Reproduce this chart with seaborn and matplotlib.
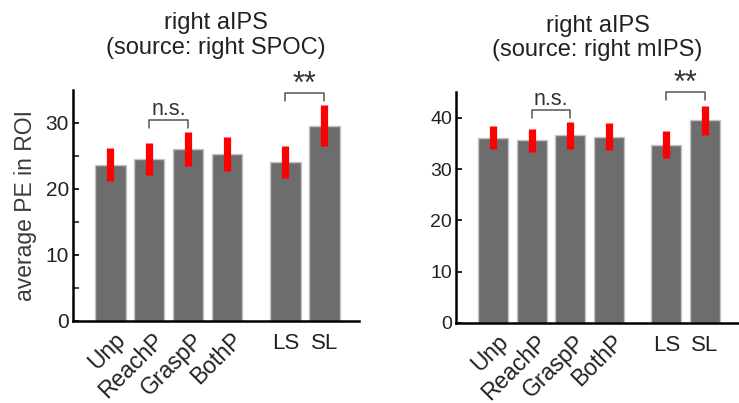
import numpy as np
import pandas as pd
import matplotlib.pyplot as plt
import matplotlib.transforms as mtransforms
import seaborn as sns

# condition labels and bar positions (gap before the LS / SL pair)
conditions = ["Unp", "ReachP", "GraspP", "BothP", "LS", "SL"]
xpos = [0, 1, 2, 3, 4.5, 5.5]

# right aIPS, source: right SPOC
spoc_mean = [23.7, 24.5, 26.1, 25.3, 24.1, 29.6]
spoc_err = [2.45, 2.4, 2.55, 2.55, 2.4, 3.05]

# right aIPS, source: right mIPS
mips_mean = [36.1, 35.6, 36.6, 36.3, 34.8, 39.5]
mips_err = [2.25, 2.3, 2.6, 2.65, 2.65, 2.9]

sns.set_style("ticks")
plt.rcParams["font.family"] = ["Liberation Sans", "DejaVu Sans"]

BAR = "#6e6d6d"
TXT = "#222222"


def draw_panel(ax, means, errs, title, ylim, yticks, tick_fs, minor=None):
    df = pd.DataFrame({"pos": xpos, "value": means})
    sns.barplot(data=df, x="pos", y="value", native_scale=True, width=0.78,
                color=BAR, saturation=1, edgecolor="#c4c4c4", linewidth=1,
                errorbar=None, ax=ax)
    ax.vlines(xpos, np.array(means) - np.array(errs), np.array(means) + np.array(errs),
              color="#ff0000", linewidth=5.2, zorder=3)

    ax.set_xlim(-0.96, 6.39)
    ax.set_ylim(*ylim)
    ax.set_yticks(yticks)
    if minor is not None:
        ax.set_yticks(minor, minor=True)
    ax.tick_params(axis="y", direction="in", length=4, width=1.2, labelsize=tick_fs,
                   colors="black", labelcolor=TXT, pad=3)
    ax.tick_params(axis="y", which="minor", direction="in", length=4, width=1.2)
    ax.tick_params(axis="x", length=0, labelsize=16, labelcolor=TXT, pad=9)

    ax.set_xticks(xpos)
    ax.set_xticklabels(conditions)
    offset = mtransforms.ScaledTranslation(0.03, 0.05, ax.figure.dpi_scale_trans)
    for i, lab in enumerate(ax.get_xticklabels()):
        if i < 4:
            lab.set_rotation(45)
            lab.set_ha("right")
            lab.set_va("top")
            lab.set_rotation_mode("anchor")
            lab.set_fontsize(16.5)
            lab.set_transform(lab.get_transform() + offset)

    for side in ["top", "right"]:
        ax.spines[side].set_visible(False)
    for side in ["left", "bottom"]:
        ax.spines[side].set_linewidth(1.8)
        ax.spines[side].set_color("black")

    ax.set_xlabel("")
    ax.set_ylabel("")
    ax.set_title(title, fontsize=17, color=TXT, pad=26, linespacing=1.15)


def bracket(ax, x1, x2, y_low, y_high, label, fs, dy=0.0):
    ax.plot([x1, x1, x2, x2], [y_low, y_high, y_high, y_low], color="#555555",
            linewidth=1.1, clip_on=False)
    ax.text((x1 + x2) / 2, y_high + dy, label, ha="center", va="bottom",
            fontsize=fs, color="#333333", clip_on=False)


fig = plt.figure(figsize=(7.39, 4.03), dpi=100)
ax1 = fig.add_axes([0.0988, 0.2035, 0.3870, 0.5732])
ax2 = fig.add_axes([0.6175, 0.199, 0.3825, 0.572])

draw_panel(ax1, spoc_mean, spoc_err, "right aIPS\n(source: right SPOC)",
           (0, 35), [0, 10, 20, 30], 15, minor=[5, 15, 25])
ax1.set_ylabel("average PE in ROI", fontsize=16.5, color="#3a3a3a", labelpad=6)
bracket(ax1, xpos[1], xpos[2], 29.2, 30.45, "n.s.", 15.5)
bracket(ax1, xpos[4], xpos[5], 33.3, 34.5, "**", 22, dy=-1.05)

draw_panel(ax2, mips_mean, mips_err, "right aIPS\n(source: right mIPS)",
           (0, 45), [0, 10, 20, 30, 40], 14)
bracket(ax2, xpos[1], xpos[2], 39.9, 41.6, "n.s.", 15.5)
bracket(ax2, xpos[4], xpos[5], 43.4, 45.05, "**", 22, dy=-1.36)

fig.savefig("out.png", dpi=100)
